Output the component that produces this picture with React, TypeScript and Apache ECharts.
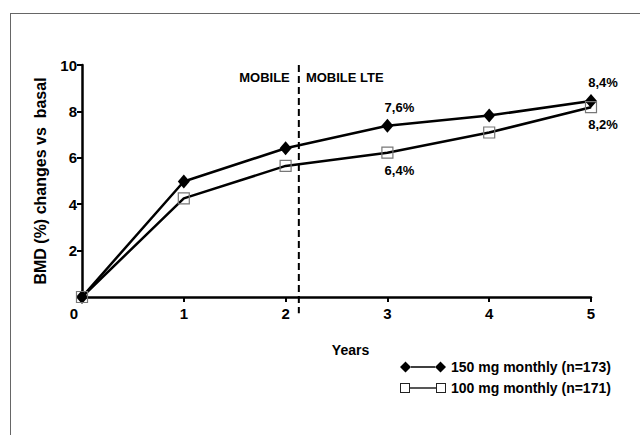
import React, { useEffect, useRef } from "react";
import * as echarts from "echarts";

const years = [0, 1, 2, 3, 4, 5];
const monthly150 = [0, 4.98, 6.41, 7.38, 7.82, 8.45];
const monthly100 = [0, 4.25, 5.65, 6.22, 7.09, 8.18];
const labels150 = ["", "", "", "7,6%", "", "8,4%"];
const labels100 = ["", "", "", "6,4%", "", "8,2%"];
const seriesNames = ["150 mg monthly (n=173)", "100 mg monthly (n=171)"];
const phaseSplitYear = 2.13;
const phaseLineTop = 10;
const phaseLineBottom = -0.7;
const phaseLabelValue = 9.46;
const phaseNames = ["MOBILE", "MOBILE LTE"];

const FONT = "'Liberation Sans', Arial, sans-serif";

const diamondIcon =
  "path://M0,5.5L5.5,0L11,5.5L5.5,11Z M11,4.7H35V6.3H11Z M35,5.5L40.5,0L46,5.5L40.5,11Z";
const squareIcon =
  "path://M0,0.5H10V10.5H0Z M1,1.5V9.5H9V1.5Z M10,4.7H36V6.3H10Z M36,0.5H46V10.5H36Z M37,1.5V9.5H45V1.5Z";

export default function App() {
  const ref = useRef<HTMLDivElement>(null);
  useEffect(() => {
    if (!ref.current) return;
    const chart = echarts.init(ref.current, undefined, { renderer: "svg" });
    const labelStyle = {
      fontFamily: FONT,
      fontWeight: "bold",
      fontSize: 13,
      color: "#000",
    };
    const mkData = (vals: number[], labels: string[], pos: string) =>
      years.map((x, i) => {
        const item: any = { value: [x, vals[i]] };
        if (labels[i]) {
          item.label = {
            show: true,
            formatter: labels[i],
            position: pos,
            offset: [12, 0],
            ...labelStyle,
          };
        }
        return item;
      });
    chart.setOption({
      animation: false,
      backgroundColor: "#fff",
      grid: { left: 82, top: 65, right: 49, bottom: 138, containLabel: false },
      legend: {
        orient: "vertical",
        left: 395,
        top: 355,
        itemWidth: 46,
        itemHeight: 11,
        itemGap: 7,
        selectedMode: false,
        textStyle: {
          fontFamily: FONT,
          fontWeight: "bold",
          fontSize: 14,
          color: "#000",
        },
        data: [
          { name: seriesNames[0], icon: diamondIcon, itemStyle: { color: "#000", borderWidth: 0 } },
          { name: seriesNames[1], icon: squareIcon, itemStyle: { color: "#222", borderWidth: 0 } },
        ],
      },
      xAxis: {
        type: "value",
        min: 0,
        max: 5,
        interval: 1,
        name: "Years",
        nameLocation: "middle",
        nameGap: 46,
        nameTextStyle: {
          fontFamily: FONT,
          fontWeight: "bold",
          fontSize: 14,
          color: "#000",
          padding: [0, 0, 0, 28],
        },
        axisLine: { lineStyle: { color: "#000", width: 2.5 } },
        axisTick: { show: true, length: 5, lineStyle: { color: "#000", width: 2 } },
        splitLine: { show: false },
        axisLabel: {
          margin: 9,
          fontFamily: FONT,
          fontWeight: "bold",
          fontSize: 15,
          color: "#000",
          formatter: (v: number) => (v === 0 ? "{z|0}" : String(v)),
          rich: {
            z: { fontFamily: FONT, fontWeight: "bold", fontSize: 15, color: "#000", padding: [0, 16, 0, 0] },
          },
        },
      },
      yAxis: {
        type: "value",
        min: 0,
        max: 10,
        interval: 2,
        name: "BMD (%) changes vs  basal",
        nameLocation: "middle",
        nameGap: 34,
        nameTextStyle: {
          fontFamily: FONT,
          fontWeight: "bold",
          fontSize: 16,
          color: "#000",
        },
        axisLine: { show: true, lineStyle: { color: "#000", width: 2.5 } },
        axisTick: { show: true, length: 5, lineStyle: { color: "#000", width: 2 } },
        splitLine: { show: false },
        axisLabel: {
          showMinLabel: false,
          margin: 5,
          fontFamily: FONT,
          fontWeight: "bold",
          fontSize: 15,
          color: "#000",
        },
      },
      graphic: [
        { type: "line", shape: { x1: 10, y1: 13.5, x2: 640, y2: 13.5 }, style: { stroke: "#666", lineWidth: 1 }, silent: true },
        { type: "line", shape: { x1: 10.5, y1: 13, x2: 10.5, y2: 435 }, style: { stroke: "#666", lineWidth: 1 }, silent: true },
      ],
      series: [
        {
          name: "phase",
          type: "line",
          data: [
            [phaseSplitYear, phaseLineTop],
            [phaseSplitYear, phaseLineBottom],
          ],
          symbol: "none",
          clip: false,
          silent: true,
          lineStyle: { color: "#000", width: 2, type: [7, 4] },
          z: 1,
        },
        {
          name: "phaseLabels",
          type: "scatter",
          symbolSize: 0.1,
          silent: true,
          itemStyle: { color: "#fff", opacity: 1 },
          data: [
            {
              value: [phaseSplitYear, phaseLabelValue],
              label: { show: true, formatter: phaseNames[0], position: "left", distance: 9, opacity: 1, ...labelStyle },
            },
            {
              value: [phaseSplitYear, phaseLabelValue],
              label: { show: true, formatter: phaseNames[1], position: "right", distance: 7, opacity: 1, ...labelStyle },
            },
          ],
        },
        {
          name: seriesNames[0],
          type: "line",
          data: mkData(monthly150, labels150, "top"),
          symbol: "diamond",
          symbolSize: [12, 14],
          itemStyle: { color: "#000" },
          lineStyle: { color: "#000", width: 2.5 },
          z: 3,
        },
        {
          name: seriesNames[1],
          type: "line",
          data: mkData(monthly100, labels100, "bottom"),
          symbol: "rect",
          symbolSize: 11,
          itemStyle: { color: "rgba(255,255,255,0)", borderColor: "#777", borderWidth: 1.2 },
          lineStyle: { color: "#000", width: 2.5 },
          z: 4,
        },
      ],
    });
    return () => chart.dispose();
  }, []);
  return <div ref={ref} style={{ width: 640, height: 435, position: "absolute", left: 0, top: 0 }} />;
}
